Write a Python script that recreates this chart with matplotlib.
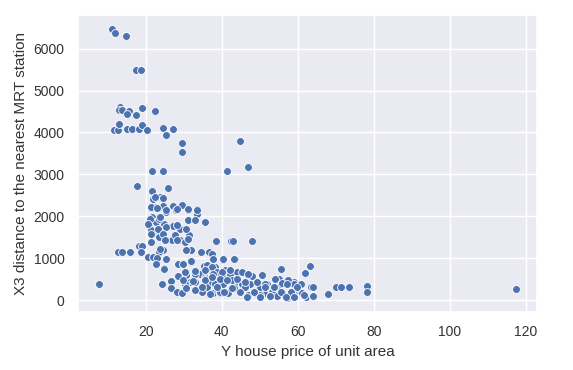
import matplotlib
matplotlib.use('Agg')
import seaborn as sns
from matplotlib import pyplot as plt

# Y house price of unit area
price = [
    11.1, 11.9, 14.8, 17.3, 18.8,
    13.3, 13.0, 13.7, 15.5, 15.0, 17.3, 19.1, 22.4,
    11.5, 12.6, 13.0, 15.0, 16.3, 18.1, 19.1, 20.3, 24.6, 25.4, 27.2, 29.5, 29.5, 44.9,
    21.6, 24.6, 41.3, 46.8, 17.6, 25.7, 21.6,
    22.0, 23.6, 21.9, 24.5,
    21.4, 22.7, 23.2, 24.5, 25.2, 27.2, 27.9, 29.4, 31.1, 33.4, 33.4,
    23.4, 21.7, 21.0, 20.7, 22.6, 24.7, 27.2, 31.1, 35.6, 23.4,
    22.7, 24.5, 28.9, 30.5, 21.7, 23.4, 25.4, 27.0, 28.9, 30.3, 31.4, 21.4, 27.2,
    38.4, 42.5, 42.9, 48.0,
    18.1, 19.0, 24.5, 23.4, 12.6, 13.6, 15.8, 18.6,
    20.5, 21.9, 22.9, 25.2, 22.7, 24.8, 28.5, 29.7, 31.9, 32.0, 30.7, 34.5, 36.7,
    37.8, 35.3, 36.9, 38.2, 37.3, 40.3, 43.5, 36.0, 36.9, 24.9,
    7.6,
    24.2, 26.5, 26.5, 28.1, 29.4, 28.5, 30.7, 31.6, 33.1, 34.2, 32.9, 33.4, 35.6,
    36.2, 37.3, 37.3, 38.7, 37.8, 38.9, 34.7, 30.2, 33.0, 35.6, 38.7, 39.5, 41.3,
    42.2, 43.1, 40.0,
    37.3, 38.7, 40.9, 42.2, 44.0, 46.6, 48.0, 50.6, 55.5, 53.7, 57.2, 59.0,
    38.2, 40.4, 42.6, 45.3, 47.5, 49.7, 51.9, 54.6,
    39.5, 41.7, 44.8, 47.0, 48.8, 51.0, 53.3, 55.9, 58.1, 60.0, 46.2, 43.1, 50.1,
    50.1, 50.1, 52.6, 54.6, 53.7, 54.1, 55.0, 55.5, 57.2, 58.5, 57.4, 59.0, 60.0,
    60.8, 61.2, 62.1, 61.9, 63.2, 63.6, 64.0, 68.0, 70.0, 71.4, 73.6, 78.3, 78.3,
    117.5,
    47.9, 49.3, 51.5, 54.1, 55.9, 57.2, 60.9, 63.9, 48.4, 51.5, 53.7, 55.6, 58.1,
    59.9, 61.6, 63.9, 50.1, 52.8, 56.8, 59.0,
    32.0, 37.8, 40.3, 43.3, 30.2, 32.9, 35.6, 37.8, 40.0, 42.2, 45.3, 47.0,
    29.8, 32.5, 35.6, 37.3, 39.5, 41.3, 44.0, 46.2, 32.9, 30.7, 36.9, 38.7,
    40.6, 42.6, 44.8, 46.6, 34.7,
    22.3, 24.5, 21.4, 23.0, 25.4, 28.1, 31.1, 33.4, 21.0, 23.6, 20.5, 23.2,
    25.4, 28.1, 30.7, 21.4, 24.5, 27.6, 21.4, 25.0, 28.1, 31.1, 23.6, 32.9,
]

# X3 distance to the nearest MRT station
dist = [
    6477, 6365, 6310, 5486, 5486,
    4615, 4529, 4529, 4512, 4434, 4410, 4576, 4512,
    4054, 4061, 4197, 4092, 4092, 4078, 4188, 4054, 4116, 3943, 4085, 3760, 3532, 3792,
    3071, 3071, 3071, 3175, 2715, 2684, 2612,
    2439, 2454, 2415, 2415,
    2202, 2216, 2202, 2256, 2097, 2256, 2154, 2280, 2154, 2169, 2059,
    1978, 1978, 1836, 1757, 1860, 1821, 1781, 1916, 1860, 1940,
    1663, 1622, 1702, 1702, 1584, 1504, 1441, 1425, 1425, 1385, 1544, 1663, 1757,
    1409, 1409, 1409, 1409,
    1283, 1283, 1204, 1148, 1156, 1156, 1156, 1156,
    1029, 1029, 1014, 990, 855, 777, 855, 855, 910, 1188, 1188, 1148, 1148,
    950, 807, 807, 792, 1109, 950, 990, 831, 752, 752,
    396,
    396, 459, 277, 198, 174, 570, 594, 435, 634, 634, 435, 238, 554,
    316, 634, 435, 435, 159, 238, 198, 396, 617, 515, 356, 159, 159,
    515, 356, 594,
    792, 673, 713, 634, 673, 634, 570, 610, 736, 515, 475, 435,
    396, 396, 475, 396, 396, 396, 396, 316,
    198, 159, 198, 119, 159, 159, 198, 159, 119, 238, 316, 277, 277,
    316, 119, 102, 102, 301, 515, 515, 380, 40, 119, 475, 396, 277,
    396, 159, 79, 657, 815, 301, 102, 135, 301, 301, 301, 333, 198,
    274,
    570, 435, 396, 515, 411, 396, 396, 316, 198, 316, 316, 198, 198,
    316, 119, 95, 79, 95, 79, 64,
    926, 974, 974, 974, 673, 689, 713, 634, 673, 713, 673, 634,
    475, 451, 475, 554, 515, 475, 515, 435, 238, 277, 135, 316,
    198, 277, 198, 79, 316,
    2454, 2439, 2216, 2193, 2138, 2178, 2178, 2138, 1940, 1978, 1821, 1702,
    1741, 1781, 1702, 1584, 1584, 1544, 1385, 1425, 1425, 1465, 1228, 1900,
]

sns.set()
plt.rcParams['font.family'] = ['Liberation Sans', 'DejaVu Sans']

fig, ax = plt.subplots(figsize=(5.73, 3.70), dpi=100)
sns.scatterplot(x=price, y=dist, ax=ax, s=32, color='#4C72B0',
                edgecolor='white', linewidth=0.6)

ax.set_xticks([20, 40, 60, 80, 100, 120])
ax.set_yticks([0, 1000, 2000, 3000, 4000, 5000, 6000])
ax.tick_params(labelsize=10, colors='#333333')
ax.set_xlabel('Y house price of unit area', fontsize=11, color='#333333')
ax.set_ylabel('X3 distance to the nearest MRT station', fontsize=11, color='#333333')

fig.subplots_adjust(left=0.136, right=0.937, top=0.959, bottom=0.157)
fig.savefig('out.png')
